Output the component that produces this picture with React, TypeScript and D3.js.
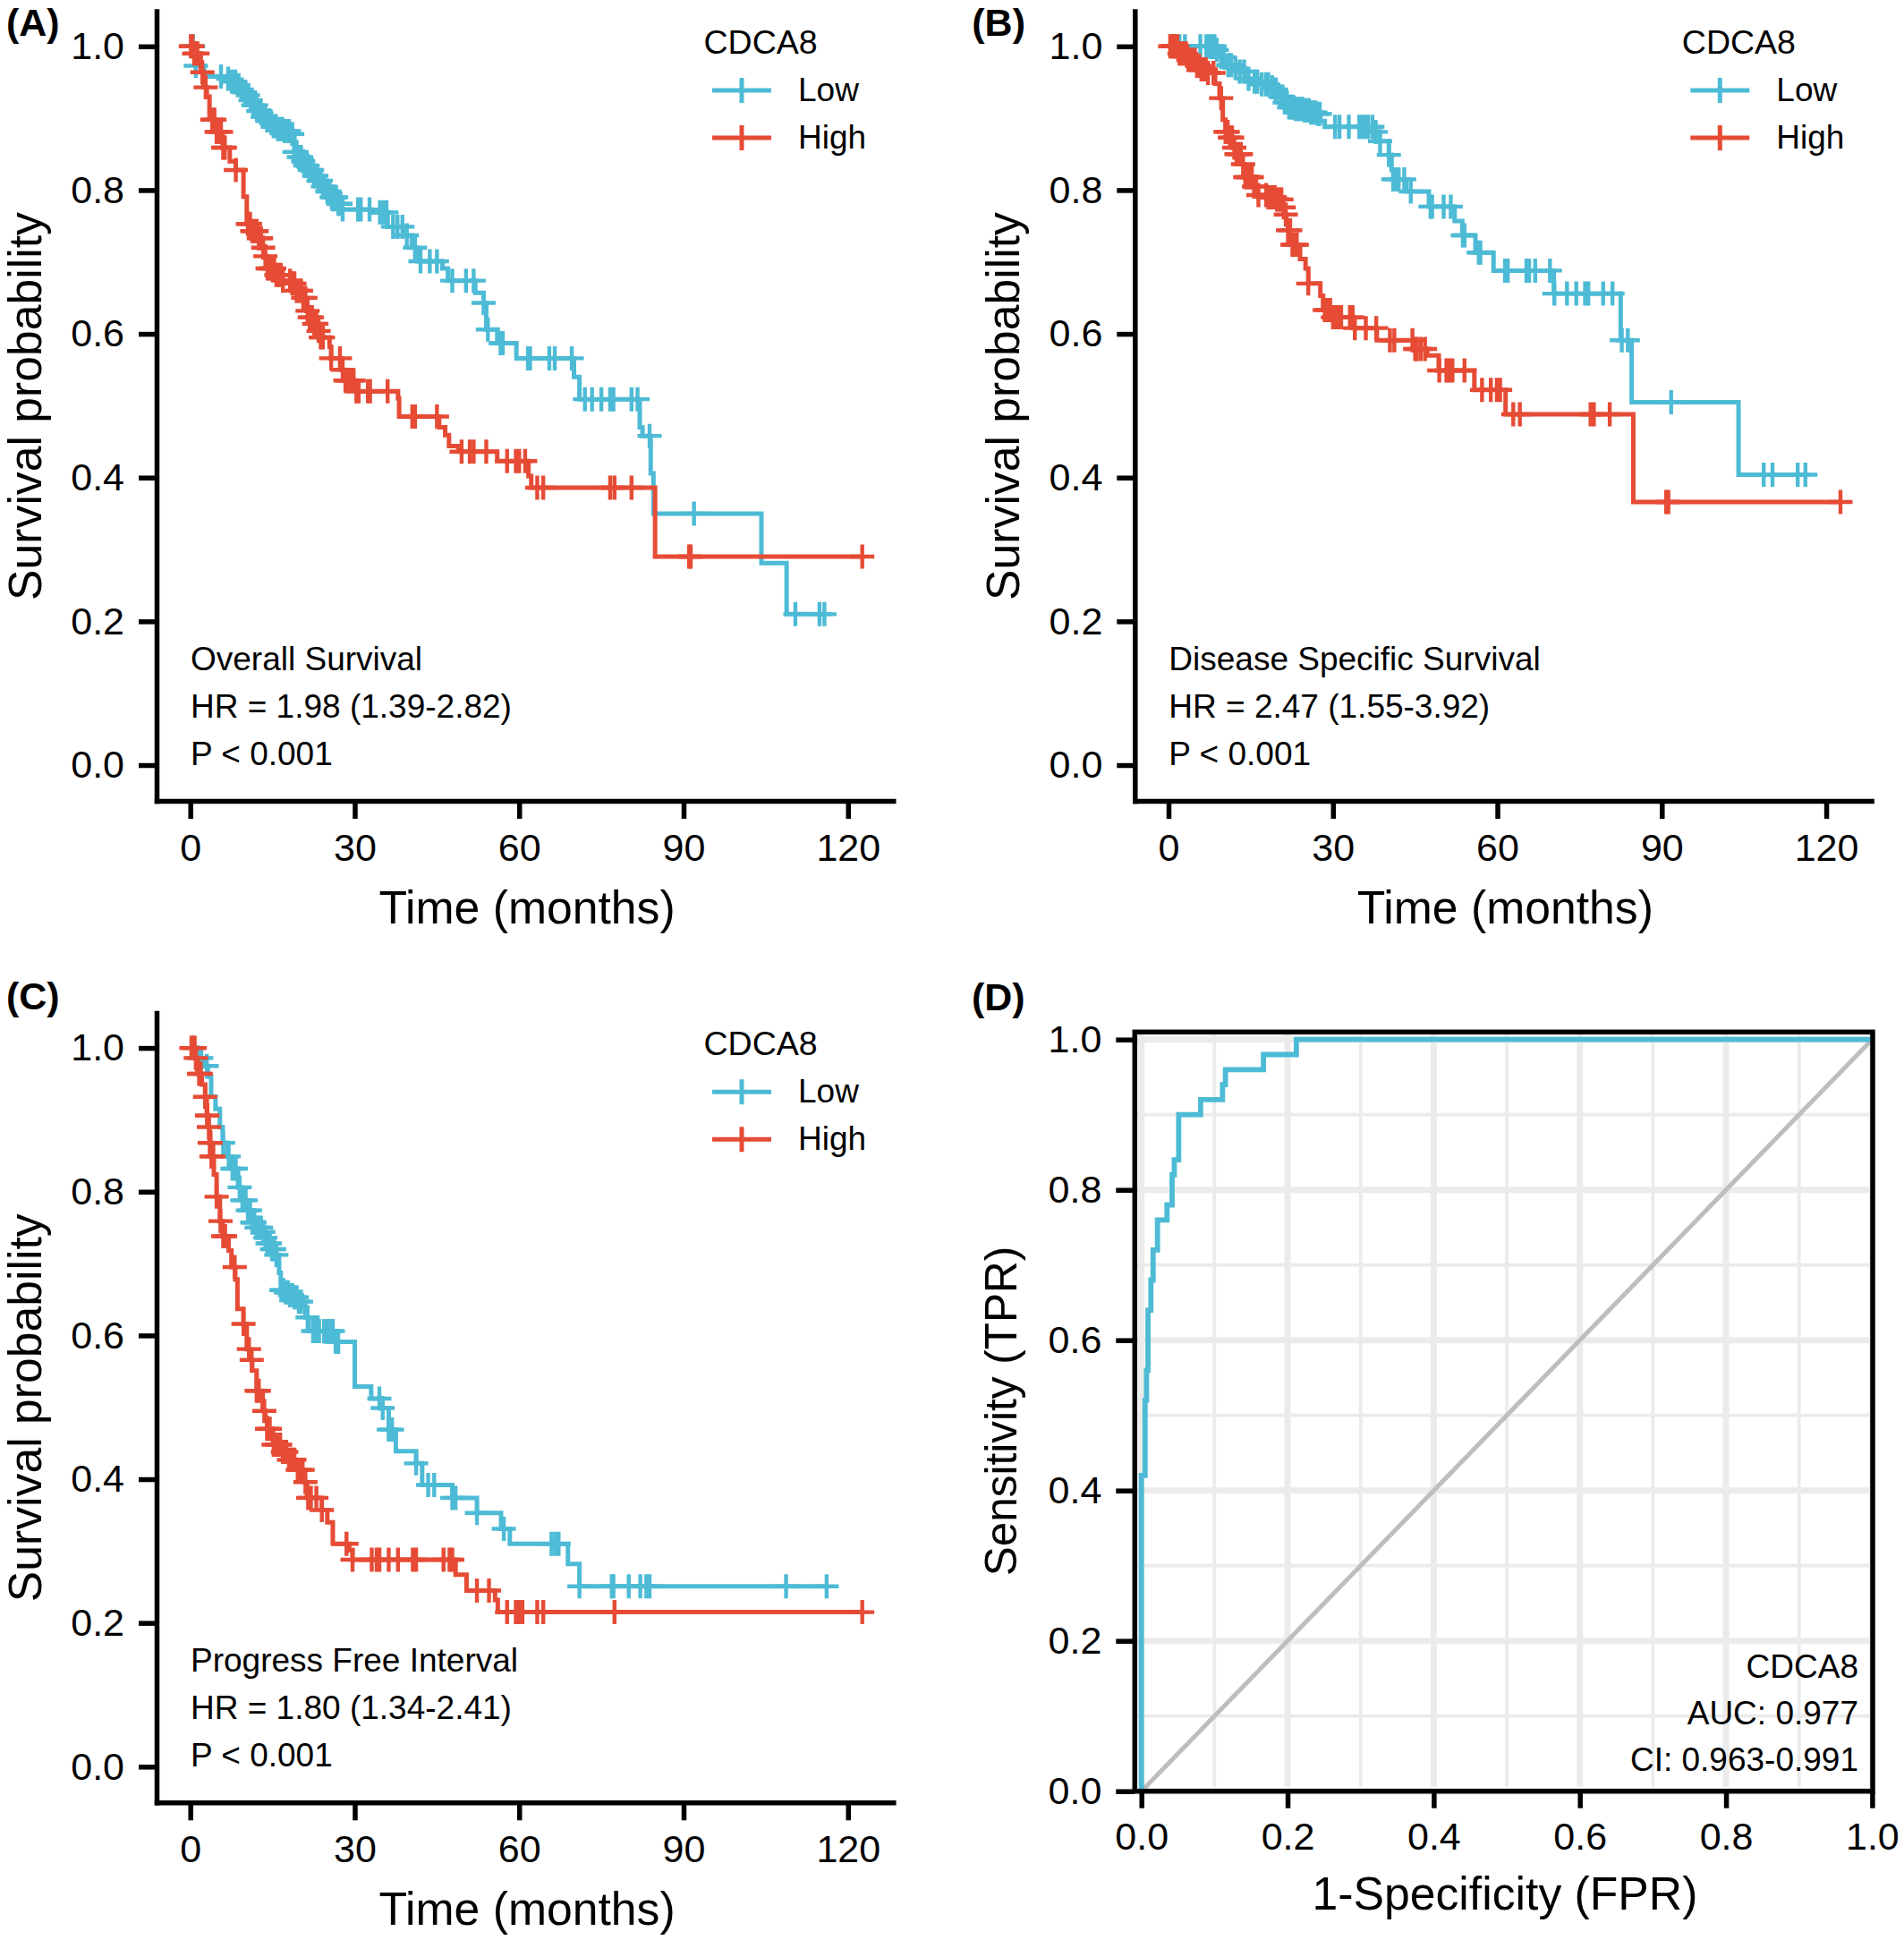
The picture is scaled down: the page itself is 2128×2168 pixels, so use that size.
import { useRef, useEffect } from "react";
import * as d3 from "d3";

const lowColor = "#4DBBD5";
const highColor = "#E64B35";
const fontFamily = "'Liberation Sans', Arial, sans-serif";

// Panel A, Overall Survival
const aLowTime = [0, 0.8, 2.5, 6.5, 7.6, 8.3, 9, 9.6, 10.3, 10.9, 11.5, 12.2, 13, 13.7, 14.5, 15.2, 16, 17.2, 18.4, 19, 19.6, 20.3, 21, 21.6, 22.4, 23.3, 24.1, 25, 25.8, 26.7, 27.6, 33, 36, 39, 40.4, 41.5, 46, 47, 52, 53.5, 54, 56, 59.5, 70, 71, 82, 82.5, 84, 84.5, 104.2, 108.8, 115.7];
const aLowSurv = [1, 0.973, 0.958, 0.955, 0.951, 0.946, 0.94, 0.936, 0.932, 0.925, 0.918, 0.91, 0.902, 0.897, 0.893, 0.889, 0.885, 0.882, 0.878, 0.853, 0.846, 0.84, 0.834, 0.828, 0.82, 0.813, 0.805, 0.798, 0.79, 0.781, 0.773, 0.769, 0.749, 0.737, 0.72, 0.701, 0.691, 0.674, 0.657, 0.643, 0.606, 0.587, 0.566, 0.54, 0.509, 0.47, 0.458, 0.406, 0.35, 0.281, 0.21, 0.21];
const aLowCensor = [0.5, 1.0, 5.6, 6.9, 7.6, 8.2, 8.8, 9.4, 10, 10.5, 11, 11.5, 12, 12.4, 12.8, 13.2, 13.6, 14, 14.4, 14.8, 15.2, 15.6, 16, 16.4, 16.8, 17.2, 17.6, 18, 18.6, 19, 19.4, 19.8, 20.2, 20.6, 21, 21.4, 21.8, 22.2, 22.6, 23, 23.4, 23.8, 24.2, 24.6, 25, 25.4, 25.8, 26.2, 26.6, 27, 27.4, 27.8, 30.6, 31.1, 32.7, 34.6, 35.2, 35.8, 37, 37.8, 38.7, 39.5, 41, 42, 43.7, 45, 47.8, 50.3, 51.7, 53.5, 54.3, 56.6, 57, 61.6, 62, 65.5, 66.5, 69.6, 72, 73.3, 75, 76.6, 77.2, 80.5, 81.6, 83.8, 91.9, 110.4, 114.8, 115.7];
const aHighTime = [0, 0.6, 1.9, 2.4, 3, 3.5, 4.6, 5.9, 7.2, 8.3, 9.7, 10.3, 11.3, 12.4, 13, 13.5, 14, 15.4, 16.8, 18.4, 19.4, 20.5, 21.2, 21.8, 22.5, 23.2, 23.8, 25.4, 25.7, 27.5, 28.3, 30.3, 37.9, 38.1, 45.4, 46.5, 47.2, 48.9, 56, 61.7, 62.2, 84.8, 122.6];
const aHighSurv = [1, 0.99, 0.964, 0.943, 0.93, 0.898, 0.881, 0.859, 0.84, 0.828, 0.791, 0.753, 0.743, 0.733, 0.72, 0.708, 0.691, 0.682, 0.674, 0.67, 0.66, 0.65, 0.632, 0.623, 0.614, 0.604, 0.595, 0.582, 0.566, 0.55, 0.535, 0.52, 0.51, 0.485, 0.47, 0.459, 0.444, 0.436, 0.423, 0.402, 0.386, 0.29, 0.29];
const aHighCensor = [0.1, 0.4, 0.7, 1.0, 1.3, 2.2, 2.8, 4, 4.4, 4.8, 5.2, 5.6, 6, 6.3, 8.3, 10.5, 10.9, 11.3, 11.7, 12.1, 12.5, 12.9, 13.3, 13.7, 14.1, 14.5, 14.9, 15.3, 15.7, 16.1, 16.5, 16.9, 18.2, 18.6, 19, 19.4, 19.8, 20.2, 20.6, 21, 21.4, 21.8, 22.2, 22.6, 23, 23.4, 23.8, 24.2, 25.7, 27.3, 27.8, 28.3, 28.8, 29.3, 29.8, 30.3, 30.7, 32.4, 32.8, 36, 40.5, 41, 45, 49.5, 51, 51.7, 54, 57.8, 59.4, 60, 61.1, 63.3, 64.4, 76.6, 77.4, 80.5, 91, 91.3, 122.6];

// Panel B, Disease Specific Survival
const bLowTime = [0, 8.8, 9.6, 10.9, 11.9, 13, 14.2, 15.5, 17, 18.3, 19.6, 20.1, 20.9, 21.8, 23, 24.5, 26, 27.2, 27.7, 28.5, 37.5, 38.5, 40.2, 40.7, 41, 43.4, 47.5, 52.2, 53.6, 56, 59.3, 70.3, 82.5, 84.5, 104, 116.2];
const bLowSurv = [1, 0.995, 0.985, 0.974, 0.97, 0.965, 0.955, 0.951, 0.947, 0.943, 0.94, 0.93, 0.922, 0.915, 0.913, 0.911, 0.908, 0.906, 0.896, 0.888, 0.881, 0.868, 0.849, 0.828, 0.815, 0.798, 0.777, 0.757, 0.737, 0.713, 0.688, 0.656, 0.591, 0.505, 0.404, 0.404];
const bLowCensor = [1, 2, 3, 5.8, 6.9, 7.4, 7.9, 8.4, 8.8, 9.6, 10.1, 10.9, 11.4, 12.2, 13, 13.8, 14.6, 15.7, 16.2, 17, 17.8, 18.2, 18.9, 19.6, 20.4, 20.8, 21.2, 21.6, 22, 22.4, 22.8, 23.2, 23.6, 24, 24.4, 24.8, 25.2, 25.6, 26, 26.4, 26.8, 27.2, 27.6, 30.4, 31.2, 32.9, 34.8, 35.4, 36.1, 36.4, 37.2, 37.8, 38.6, 40.2, 41, 41.5, 42, 43, 44.2, 47.8, 48.1, 50.2, 51.5, 53.7, 54, 56.6, 56.9, 61.4, 61.9, 65.3, 65.8, 66.9, 69.6, 70.4, 72.7, 74.4, 76, 76.6, 79.3, 81, 82.7, 83.8, 91.7, 108.6, 110.2, 114.8, 116.2];
const bHighTime = [0, 1.7, 3.3, 4.9, 5.9, 7.1, 8.5, 9.3, 9.9, 10.4, 11.2, 11.7, 12.3, 13.4, 13.9, 15.3, 16.3, 18, 19.6, 20.7, 21.2, 21.5, 21.8, 22.3, 24, 25, 25.5, 27.7, 28.2, 29.9, 33.7, 38, 45, 47.2, 49.3, 55.8, 61.5, 84.8, 122.6];
const bHighSurv = [1, 0.99, 0.981, 0.973, 0.968, 0.963, 0.948, 0.928, 0.898, 0.881, 0.873, 0.859, 0.85, 0.836, 0.818, 0.805, 0.793, 0.79, 0.787, 0.776, 0.766, 0.755, 0.744, 0.724, 0.704, 0.691, 0.67, 0.653, 0.633, 0.623, 0.608, 0.591, 0.579, 0.57, 0.549, 0.522, 0.488, 0.366, 0.366];
const bHighCensor = [0.3, 0.6, 0.9, 1.2, 1.6, 2, 2.4, 2.8, 3.2, 3.6, 4, 4.4, 4.8, 5.2, 5.6, 6, 6.4, 6.8, 7.2, 8.2, 9.6, 10.4, 10.8, 11.2, 11.6, 12, 12.4, 12.8, 13.2, 13.6, 14, 14.4, 14.8, 15.2, 15.6, 16, 16.4, 17.8, 18.2, 18.6, 19, 19.4, 19.8, 20.2, 20.6, 21, 21.4, 21.8, 22.2, 22.6, 23, 23.4, 25.5, 28.5, 29, 29.5, 30, 30.5, 31, 31.5, 33.1, 33.6, 34, 36, 37.9, 40.4, 41.2, 44.5, 45, 45.3, 46, 46.8, 49.4, 50.7, 51.2, 51.8, 54, 57.2, 58.8, 59.9, 60.5, 62.9, 64.1, 77, 77.6, 80.5, 90.8, 91.2, 122.6];

// Panel C, Progress Free Interval
const cLowTime = [0, 1.3, 2.4, 3.2, 3.8, 4.6, 5.4, 5.9, 6.7, 7.5, 8.7, 9.5, 10.3, 11.3, 12.1, 13, 13.5, 14, 14.8, 15.7, 16.2, 16.5, 17.3, 18.1, 18.9, 19.7, 20.5, 21, 21.6, 26.5, 30, 33, 35, 36.2, 37.5, 41.2, 42.3, 47.8, 52.3, 56.7, 58.3, 68.9, 71, 116.1];
const cLowSurv = [1, 0.986, 0.975, 0.96, 0.932, 0.915, 0.89, 0.868, 0.849, 0.832, 0.806, 0.788, 0.774, 0.757, 0.75, 0.744, 0.736, 0.728, 0.72, 0.712, 0.687, 0.663, 0.66, 0.656, 0.653, 0.647, 0.641, 0.625, 0.606, 0.591, 0.529, 0.512, 0.499, 0.469, 0.439, 0.422, 0.392, 0.374, 0.353, 0.331, 0.31, 0.282, 0.251, 0.251];
const cLowCensor = [0.6, 1.5, 2, 3, 6, 7, 7.7, 8.3, 9, 9.5, 10.1, 10.5, 10.9, 11.3, 11.7, 12.1, 12.5, 12.9, 13.3, 13.7, 14.1, 14.5, 14.9, 15.3, 15.7, 16.6, 17, 17.4, 17.8, 18.2, 18.6, 19, 19.4, 19.8, 20.2, 21.4, 22.4, 23, 23.5, 24.4, 25, 25.5, 26, 26.5, 27, 34.5, 35.1, 36.2, 36.8, 41.2, 43.4, 44.5, 47.8, 48.4, 52.3, 57.2, 65.9, 66.6, 67.2, 71, 76.9, 77.2, 80, 82.1, 83.2, 83.8, 108.7, 116.1];
const cHighTime = [0, 1, 1.3, 2.1, 2.7, 3, 3.3, 3.5, 3.8, 4.3, 4.8, 5.4, 5.9, 7, 7.5, 8.2, 8.6, 9.7, 10.3, 10.8, 11.3, 12.1, 13.2, 13.7, 14, 15.1, 16.8, 18, 19.2, 20.7, 21.3, 24, 25, 26, 29, 29.6, 48.4, 50.4, 55.6, 56.1, 122.6];
const cHighSurv = [1, 0.986, 0.964, 0.949, 0.932, 0.906, 0.89, 0.868, 0.849, 0.824, 0.793, 0.759, 0.738, 0.718, 0.695, 0.678, 0.637, 0.616, 0.581, 0.566, 0.551, 0.523, 0.495, 0.485, 0.47, 0.448, 0.438, 0.427, 0.413, 0.396, 0.374, 0.357, 0.34, 0.31, 0.301, 0.288, 0.267, 0.245, 0.232, 0.215, 0.215];
const cHighCensor = [0.2, 0.5, 0.8, 1, 1.6, 1.9, 2.7, 3.05, 3.1, 3.4, 3.55, 3.7, 3.85, 4.2, 4.8, 5.5, 6, 6.35, 8.1, 9.7, 10.7, 11.2, 12.1, 12.5, 13.5, 14, 14.5, 15.2, 15.8, 16.4, 16.9, 17.5, 18, 18.5, 19, 19.6, 20, 20.5, 21, 21.5, 22, 23, 24, 28.5, 29.6, 33.1, 34, 34.5, 36.2, 37.9, 40.6, 41.2, 46.2, 47.3, 47.8, 52.3, 54.5, 57.8, 59.4, 60, 60.6, 63.3, 64.4, 77.4, 122.6];

// Panel D, ROC
const rocFpr = [0, 0, 0.002, 0.005, 0.007, 0.009, 0.013, 0.016, 0.022, 0.035, 0.042, 0.045, 0.051, 0.081, 0.111, 0.115, 0.167, 0.212, 1];
const rocTpr = [0, 0.42, 0.42, 0.52, 0.56, 0.64, 0.68, 0.72, 0.76, 0.78, 0.82, 0.84, 0.9, 0.92, 0.94, 0.96, 0.98, 1, 1];
const rocLabels = ["CDCA8", "AUC: 0.977", "CI: 0.963-0.991"];

const timeTicks = [0, 30, 60, 90, 120];
const survTicks = [0, 0.2, 0.4, 0.6, 0.8, 1];
const rocMajor = [0, 0.2, 0.4, 0.6, 0.8, 1];
const rocMinor = [0.1, 0.3, 0.5, 0.7, 0.9];
const groupNames = ["Low", "High"];

const panels = [
    { label: "(A)", dx: 0, dy: 0, labelX: 7, labelY: 40, labels: ["Overall Survival", "HR = 1.98 (1.39-2.82)", "P < 0.001"], low: [aLowTime, aLowSurv, aLowCensor], high: [aHighTime, aHighSurv, aHighCensor] },
    { label: "(B)", dx: 1093.3, dy: 0, labelX: -7, labelY: 40, labels: ["Disease Specific Survival", "HR = 2.47 (1.55-3.92)", "P < 0.001"], low: [bLowTime, bLowSurv, bLowCensor], high: [bHighTime, bHighSurv, bHighCensor] },
    { label: "(C)", dx: 0, dy: 1119.3, labelX: 7, labelY: 8.7, labels: ["Progress Free Interval", "HR = 1.80 (1.34-2.41)", "P < 0.001"], low: [cLowTime, cLowSurv, cLowCensor], high: [cHighTime, cHighSurv, cHighCensor] },
];

type Sel = d3.Selection<any, unknown, null, undefined>;

function styleAxis(g: Sel) {
    g.selectAll("path.domain").attr("stroke", "#000").attr("stroke-width", 5.5).attr("stroke-linecap", "square");
    g.selectAll(".tick line").attr("stroke", "#000").attr("stroke-width", 5.5);
    g.selectAll(".tick text").attr("fill", "#000").attr("font-size", 43).attr("font-family", fontFamily);
}

function addText(g: Sel, str: string, x: number, y: number, size: number, anchor = "start") {
    return g.append("text").attr("x", x).attr("y", y).attr("font-size", size).attr("text-anchor", anchor)
        .attr("font-family", fontFamily).attr("fill", "#000").text(str);
}

function drawCurve(g: Sel, x: any, y: any, curve: number[][], color: string) {
    const [times, survs, censors] = curve;
    const line = d3.line<number>().x((t) => x(t)).y((_, i) => y(survs[i])).curve(d3.curveStepAfter);
    g.append("path").attr("d", line(times)).attr("fill", "none").attr("stroke", color).attr("stroke-width", 5);
    g.append("g").selectAll("path").data(censors).join("path")
        .attr("transform", (t) => `translate(${x(t)},${y(survs[d3.bisectRight(times, t) - 1])})`)
        .attr("d", "M-13.5,0H13.5M0,-13.5V13.5")
        .attr("fill", "none").attr("stroke", color).attr("stroke-width", 4.4);
}

export default function App() {
    const ref = useRef<SVGSVGElement>(null);

    useEffect(() => {
        if (!ref.current) return;
        const svg = d3.select(ref.current);
        svg.selectAll("*").remove();

        const x = d3.scaleLinear().domain([-6.155, 128.25]).range([175, 998.3]);
        const y = d3.scaleLinear().domain([-0.0498, 1.0488]).range([895, 12.6]);

        panels.forEach((p) => {
            const g = svg.append("g").attr("transform", `translate(${p.dx},${p.dy})`);

            const xAxis = g.append("g").attr("transform", "translate(0,895)")
                .call(d3.axisBottom(x).tickValues(timeTicks).tickSizeOuter(0).tickSizeInner(20).tickPadding(16));
            const yAxis = g.append("g").attr("transform", "translate(175,0)")
                .call(d3.axisLeft(y).tickValues(survTicks).tickFormat(d3.format(".1f")).tickSizeOuter(0).tickSizeInner(20).tickPadding(16));
            styleAxis(xAxis);
            styleAxis(yAxis);

            drawCurve(g, x, y, p.low, lowColor);
            drawCurve(g, x, y, p.high, highColor);

            addText(g, p.label, p.labelX, p.labelY, 43).attr("font-weight", "bold");
            addText(g, "Time (months)", 589, 1031.5, 51.7, "middle");
            addText(g, "Survival probability", 0, 0, 51.7, "middle").attr("transform", "translate(46,454) rotate(-90)");

            p.labels.forEach((s, i) => addText(g, s, 213, 749 + i * 53, 37));

            addText(g, "CDCA8", 786.5, 60, 37.5);
            groupNames.forEach((name, i) => {
                const ly = 101 + i * 53;
                g.append("path").attr("d", `M796,${ly}H862M829,${ly - 14}V${ly + 14}`)
                    .attr("fill", "none").attr("stroke", i ? highColor : lowColor).attr("stroke-width", 5);
                addText(g, name, 892, ly + 12, 37);
            });
        });

        // ROC panel
        const rx = d3.scaleLinear().domain([0, 1]).range([1275.7, 2092.4]);
        const ry = d3.scaleLinear().domain([0, 1]).range([2001.7, 1161.7]);
        const left = 1268.3, right = 2093, top = 1153.3, bottom = 2001.7;
        const d = svg.append("g");

        const grid = d.append("g").attr("fill", "none").attr("stroke", "#EBEBEB");
        rocMinor.forEach((v) => {
            grid.append("path").attr("d", `M${rx(v)},${top}V${bottom - 5}M${left},${ry(v)}H${right}`).attr("stroke-width", 3.8);
        });
        rocMajor.forEach((v) => {
            grid.append("path").attr("d", `M${rx(v)},${top}V${bottom - 5}M${left},${ry(v)}H${right}`).attr("stroke-width", 7);
        });

        d.append("line").attr("x1", rx(0)).attr("y1", ry(0)).attr("x2", rx(1)).attr("y2", ry(1))
            .attr("stroke", "#BEBEBE").attr("stroke-width", 5);

        const rocLine = d3.line<number>().x((v) => rx(v)).y((_, i) => ry(rocTpr[i])).curve(d3.curveStepAfter);
        d.append("path").attr("d", rocLine(rocFpr)).attr("fill", "none").attr("stroke", lowColor).attr("stroke-width", 5.8);

        d.append("rect").attr("x", left).attr("y", top).attr("width", right - left).attr("height", bottom - top)
            .attr("fill", "none").attr("stroke", "#000").attr("stroke-width", 5.5);

        const rxAxis = d.append("g").attr("transform", `translate(0,${bottom})`)
            .call(d3.axisBottom(rx).tickValues(rocMajor).tickFormat(d3.format(".1f")).tickSizeOuter(0).tickSizeInner(19).tickPadding(16));
        const ryAxis = d.append("g").attr("transform", `translate(${left},0)`)
            .call(d3.axisLeft(ry).tickValues(rocMajor).tickFormat(d3.format(".1f")).tickSizeOuter(0).tickSizeInner(21).tickPadding(16));
        rxAxis.select("path.domain").remove();
        ryAxis.select("path.domain").remove();
        styleAxis(rxAxis);
        styleAxis(ryAxis);

        addText(d, "(D)", 1086, 1129, 43).attr("font-weight", "bold");
        addText(d, "1-Specificity (FPR)", 1682, 2134, 51.7, "middle");
        addText(d, "Sensitivity (TPR)", 0, 0, 49.5, "middle").attr("transform", "translate(1136,1577) rotate(-90)");
        rocLabels.forEach((s, i) => addText(d, s, 2077, 1874.5 + i * 52, 37, "end"));
    });

    return <svg ref={ref} width={2128} height={2168} style={{ position: "absolute", left: 0, top: 0, background: "#fff" }}></svg>;
}
